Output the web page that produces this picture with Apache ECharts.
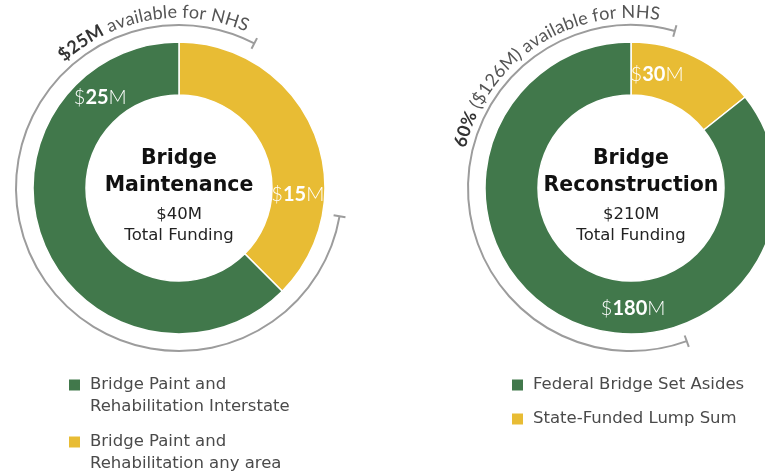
<!DOCTYPE html>
<html>
<head>
<meta charset="utf-8">
<script src="https://cdn.jsdelivr.net/npm/echarts@6/dist/echarts.min.js"></script>
<style>
  html, body { margin: 0; padding: 0; background: #fff; }
  #chart { width: 765px; height: 474px; }
</style>
</head>
<body>
<div id="chart"></div>
<script>
  // data
  var maintNames = ['Bridge Paint and Rehabilitation any area', 'Bridge Paint and Rehabilitation Interstate'];
  var maintValues = [15, 25];
  var reconNames = ['State-Funded Lump Sum', 'Federal Bridge Set Asides'];
  var reconValues = [30, 180];
  var maintNote = [['$25M', true], [' available for NHS', false]];
  var reconNote = [['60%', true], [' ($126M) available for NHS', false]];

  var GREEN = '#41784b', YELLOW = '#e8bc34', GREY = '#9c9c9c';
  var FONT = 'Lato', WIDE = 'DejaVu Sans';
  var CY = 188, R_IN = 93, R_OUT = 146, R_ARC = 163;
  var centers = [179, 631];
  // label angle (deg clockwise from top) and radius, per series / data index
  var labelPos = [[[93, 119], [-41, 120]], [[13, 116], [179, 121]]];

  function sum(a) { return a.reduce(function(s, v) { return s + v; }, 0); }
  function rad(d) { return d * Math.PI / 180; }

  var ctx = document.createElement('canvas').getContext('2d');

  // text bent along the outer arc
  function curvedText(cx, segs, midDeg, r, size) {
    var chars = [], total = 0;
    segs.forEach(function(s) {
      var f = (s[1] ? 'bold ' : '') + size + 'px ' + FONT;
      ctx.font = f;
      s[0].split('').forEach(function(ch) {
        var w = ctx.measureText(ch).width;
        chars.push({ ch: ch, w: w, font: f, bold: s[1] });
        total += w;
      });
    });
    var acc = 0, start = rad(midDeg) - total / 2 / r, out = [];
    chars.forEach(function(c) {
      var t = start + (acc + c.w / 2) / r;
      acc += c.w;
      out.push({
        type: 'text',
        x: cx + r * Math.sin(t),
        y: CY - r * Math.cos(t),
        rotation: -t,
        style: {
          text: c.ch, font: c.font, fill: c.bold ? '#333' : '#555',
          textAlign: 'center', textVerticalAlign: 'bottom'
        }
      });
    });
    return out;
  }

  // grey bracket arc with end ticks; angles clockwise from top
  function bracket(cx, fromDeg, toDeg) {
    var els = [{
      type: 'arc',
      shape: { cx: cx, cy: CY, r: R_ARC, startAngle: rad(fromDeg - 90), endAngle: rad(toDeg - 90), clockwise: true },
      style: { stroke: GREY, lineWidth: 2, fill: null }
    }];
    [fromDeg, toDeg].forEach(function(d) {
      var t = rad(d);
      els.push({
        type: 'line',
        shape: {
          x1: cx + (R_ARC - 6) * Math.sin(t), y1: CY - (R_ARC - 6) * Math.cos(t),
          x2: cx + (R_ARC + 6) * Math.sin(t), y2: CY - (R_ARC + 6) * Math.cos(t)
        },
        style: { stroke: GREY, lineWidth: 2 }
      });
    });
    return els;
  }

  function centerText(cx, title, total) {
    var t = [[title[0], 159, true], [title[1], 186, true], ['$' + total + 'M', 215, false], ['Total Funding', 236, false]];
    return t.map(function(l) {
      return {
        type: 'text', x: cx, y: l[1],
        style: {
          text: l[0],
          font: (l[2] ? 'bold 20.5px ' : '16.5px ') + WIDE,
          fill: l[2] ? '#111' : '#222',
          textAlign: 'center', textVerticalAlign: 'middle'
        }
      };
    });
  }

  function pie(cx, names, values) {
    return {
      type: 'pie',
      center: [cx, CY],
      radius: [R_IN, R_OUT],
      startAngle: 90,
      silent: true,
      itemStyle: { borderColor: '#fff', borderWidth: 1.5 },
      label: {
        show: true,
        position: 'inside',
        formatter: function(p) { return '{a|$}{b|' + p.value + '}{a|M}'; },
        rich: {
          a: { color: '#fff', fontSize: 20, fontFamily: FONT, fontWeight: 300 },
          b: { color: '#fff', fontSize: 20, fontFamily: FONT, fontWeight: 'bold' }
        }
      },
      labelLine: { show: false },
      labelLayout: function(p) {
        var lp = labelPos[p.seriesIndex][p.dataIndex];
        var t = rad(lp[0]);
        return { x: cx + lp[1] * Math.sin(t), y: CY - lp[1] * Math.cos(t) };
      },
      data: names.map(function(n, i) {
        return { name: n, value: values[i], itemStyle: { color: i === 0 ? YELLOW : GREEN } };
      })
    };
  }

  var legendText = { fontFamily: WIDE, fontSize: 16.5, color: '#4a4a4a', lineHeight: 22 };

  var option = {
    animation: false,
    legend: [{
      data: [maintNames[1], maintNames[0]],
      orient: 'vertical',
      left: 67, top: 352, padding: 0, height: 160,
      itemWidth: 13, itemHeight: 13, itemGap: -9,
      icon: 'rect',
      // blank first line keeps the marker level with the first text line
      formatter: function(n) { return ' \n' + n.replace('and ', 'and\n'); },
      textStyle: Object.assign({ padding: [0, 0, 0, 4] }, legendText)
    }, {
      data: [reconNames[1], reconNames[0]],
      orient: 'vertical',
      left: 510, top: 374, padding: 0,
      itemWidth: 13, itemHeight: 13, itemGap: 12,
      icon: 'rect',
      textStyle: Object.assign({ padding: [0, 0, 0, 4] }, legendText)
    }],
    series: [pie(centers[0], maintNames, maintValues), pie(centers[1], reconNames, reconValues)],
    graphic: [].concat(
      bracket(centers[0], 100, 387.5),
      bracket(centers[1], 160, 375.6),
      curvedText(centers[0], maintNote, -9.5, R_ARC + 4, 18),
      curvedText(centers[1], reconNote, -33.5, R_ARC + 4, 18),
      centerText(centers[0], ['Bridge', 'Maintenance'], sum(maintValues)),
      centerText(centers[1], ['Bridge', 'Reconstruction'], sum(reconValues))
    )
  };

  echarts.init(document.getElementById('chart')).setOption(option);
</script>
</body>
</html>
